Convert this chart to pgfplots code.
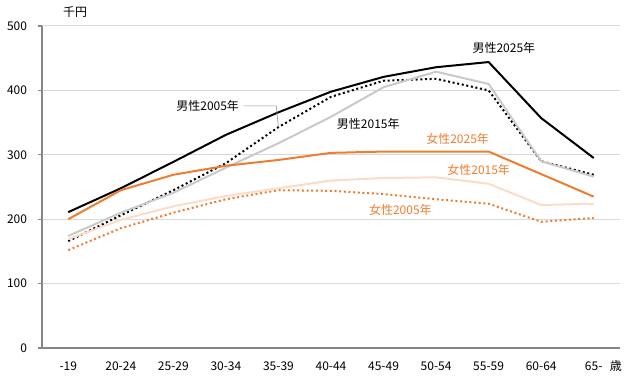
\documentclass[border=0pt]{standalone}
\usepackage{pgfplots}
\pgfplotsset{compat=1.18}
\usepackage{fontspec}
\setmainfont{Noto Sans CJK JP}

\definecolor{orng}{HTML}{ED7D31}
\definecolor{pale}{HTML}{FADCC8}
\definecolor{lgray}{HTML}{C9C9C9}
\definecolor{gridc}{HTML}{D9D9D9}
\definecolor{axc}{HTML}{868686}

\begin{document}
\fontsize{9}{11}\selectfont
\begin{tikzpicture}
\begin{axis}[
  width=433.5pt, height=241.5pt,
  scale only axis,
  xmin=-0.5, xmax=10.5,
  ymin=0, ymax=500,
  xtick={0,...,10},
  xticklabels={-19,20-24,25-29,30-34,35-39,40-44,45-49,50-54,55-59,60-64,65-},
  ytick={0,100,...,500},
  axis x line*=bottom, axis y line*=left,
  axis line style={axc, line width=0.8pt},
  ymajorgrids, grid style={gridc, line width=0.75pt},
  x tick style={draw=none},
  y tick style={axc, line width=0.8pt},
  tick align=outside, major tick length=3pt,
  yticklabel style={xshift=-5pt},
  xticklabel style={yshift=-4pt},
  /pgf/number format/assume math mode=true,
  tick label style={font=\fontsize{9}{11}\selectfont},
  clip=false,
]
% 男性2005年
\addplot[black, line width=1.5pt, dotted] coordinates {
(0,166) (1,206) (2,245) (3,287) (4,343) (5,390) (6,415) (7,418) (8,400) (9,290) (10,269)};
% 男性2015年
\addplot[lgray, line width=1.5pt] coordinates {
(0,174) (1,210) (2,241) (3,280) (4,318) (5,359) (6,405) (7,429) (8,410) (9,290) (10,266)};
% 男性2025年
\addplot[black, line width=1.5pt] coordinates {
(0,211) (1,248) (2,289) (3,331) (4,366) (5,398) (6,421) (7,436) (8,444) (9,357) (10,295)};
% 女性2005年
\addplot[orng, line width=1.5pt, dotted] coordinates {
(0,152) (1,186) (2,210) (3,231) (4,245) (5,244) (6,239) (7,231) (8,224) (9,196) (10,202)};
% 女性2015年
\addplot[pale, line width=1.5pt] coordinates {
(0,169) (1,199) (2,220) (3,236) (4,248) (5,260) (6,264) (7,265) (8,255) (9,222) (10,224)};
% 女性2025年
\addplot[orng, line width=1.5pt] coordinates {
(0,200) (1,245) (2,269) (3,283) (4,292) (5,303) (6,305) (7,305) (8,305) (9,270) (10,235)};

\node[black] at (axis cs:8.29,466) {男性2025年};
\node[black, anchor=east] (m05) at (axis cs:3.33,376) {男性2005年};
\draw[gray!80, line width=0.5pt] (m05.east) -- ++(5pt,0) -- (axis cs:4,343);
\node[black] at (axis cs:5.71,348) {男性2015年};
\node[orng] at (axis cs:7.41,325) {女性2025年};
\node[orng] at (axis cs:7.81,276) {女性2015年};
\node[orng] at (axis cs:6.32,214) {女性2005年};
\node[black] at (axis cs:0.13,522) {千円};
\node[black] at (axis cs:10.42,-28) {歳};
\end{axis}
\pgfresetboundingbox
\path ([xshift=-31.5pt, yshift=-26.25pt]current axis.south west) rectangle ([xshift=15.75pt, yshift=19.5pt]current axis.north east);
\end{tikzpicture}
\end{document}
